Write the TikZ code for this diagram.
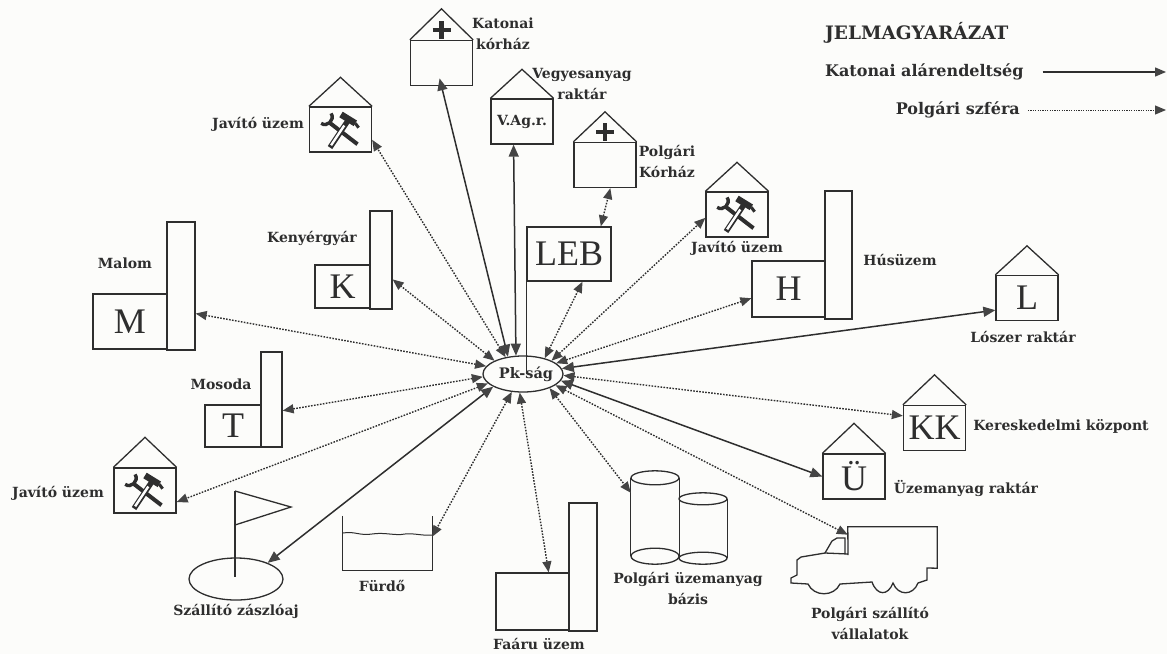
\documentclass[tikz,border=0pt]{standalone}
\usepackage{fontspec}
\setmainfont{DejaVu Serif}
\newfontfamily\bigfont{Liberation Serif}
\usetikzlibrary{arrows.meta,calc,shapes.geometric}
\definecolor{paper}{HTML}{FCFCFA}
\definecolor{ink}{HTML}{2E2E2E}
\definecolor{tipgray}{HTML}{444444}
\tikzset{
	shape line/.style={draw=ink,line width=1.3pt},
	house node/.style={rectangle,shape line,inner sep=0pt,minimum width=62pt,minimum height=45pt,font=\bigfont\fontsize{36}{36}\selectfont,text=ink},
	wing node/.style={rectangle,shape line,inner sep=0pt,font=\bigfont\fontsize{36}{36}\selectfont,text=ink},
	label node/.style={inner sep=0pt,align=center,text=ink,font=\fontsize{14}{21}\selectfont\bfseries},
	legend node/.style={inner sep=0pt,text=ink,font=\fontsize{16}{18}\selectfont\bfseries},
	hidden node/.style={rectangle,inner sep=0pt},
	mil/.style={draw=ink,line width=1.5pt,{Triangle[length=12pt,width=10pt,color=tipgray]}-{Triangle[length=12pt,width=10pt,color=tipgray]}},
	civ/.style={draw=ink,line width=1.4pt,dash pattern=on 1.6pt off 1.4pt,{Triangle[length=11pt,width=9pt,color=tipgray]}-{Triangle[length=11pt,width=9pt,color=tipgray]}},
	cross/.pic={
		\draw[ink,line width=4.5pt] (0,-9) -- (0,9);
		\draw[ink,line width=4.5pt] (-9,0) -- (9,0);
	},
	tools/.pic={
		\draw[ink,line width=4pt] (-11,-8) -- (15,12);
		\draw[ink,line width=3.4pt] (-18,-7) .. controls (-13,-3) and (-5,-10) .. (-9,-16);
		\draw[ink,line width=5.4pt] (-10,15) -- (6,-9);
		\draw[white,line width=2.4pt] (-9,13) -- (3,-5);
		\draw[ink,line width=6.5pt] (0,-15) -- (13,-7);
		\draw[ink,line width=3pt] (13,-7) -- (16,-3);
	},
}
\newcommand{\roof}[2]{\draw[shape line] (#1.north west) -- ($(#1.north)+(0,-#2)$) -- (#1.north east);}
\begin{document}
\begin{tikzpicture}[x=1pt,y=-1pt]
	\fill[paper] (0,0) rectangle (1167,654);
	\useasboundingbox (0,0) rectangle (1167,654);
	
	\node[ellipse,shape line,inner sep=0pt,minimum width=80pt,minimum height=36pt] (pk) at (523,374) {};
	\node[label node,font=\fontsize{14.5}{16}\selectfont\bfseries] (pklabel) at (526,374) {Pk-ság};
	
	\node[house node] (katkor) at (441.5,63) {};
	\node[house node] (vagr) at (522,121.5) {\fontsize{14}{14}\selectfont\rmfamily\bfseries V.Ag.r.};
	\node[house node] (polkor) at (605,165) {};
	\node[house node] (javfel) at (340.5,129.5) {};
	\node[house node] (javjobb) at (737,214.5) {};
	\node[house node] (javle) at (145,490.5) {};
	\node[house node] (loszer) at (1027,298) {L};
	\node[house node] (kozp) at (934.5,428) {KK};
	\node[house node] (uzem) at (854,476.5) {Ü};
	
	\foreach \h/\t in {katkor/31,vagr/29,polkor/30,javfel/29,javjobb/29,javle/30,loszer/29,kozp/30,uzem/30} {
		\roof{\h}{\t}
	}
	\pic at (441.5,30) {cross};
	\pic at (605,132) {cross};
	\pic[scale=1.1] at (341,131) {tools};
	\pic[scale=1.1] at (737,215) {tools};
	\pic[scale=1.1] at (145,492) {tools};
	
	\node[wing node,minimum width=74pt,minimum height=55pt] (malom) at (130,321.5) {M};
	\node[wing node,minimum width=28pt,minimum height=128pt] (malomt) at (181,286) {};
	\node[wing node,minimum width=55pt,minimum height=43pt] (keny) at (342.5,286.5) {K};
	\node[wing node,minimum width=22pt,minimum height=98pt] (kenyt) at (381,260) {};
	\node[wing node,minimum width=56pt,minimum height=42pt] (mos) at (233,426) {T};
	\node[wing node,minimum width=21pt,minimum height=95pt] (most) at (271.5,399.5) {};
	\node[wing node,minimum width=84pt,minimum height=54pt] (leb) at (569,254) {LEB};
	\node[wing node,minimum width=73pt,minimum height=56pt] (hus) at (788.5,289) {H};
	\node[wing node,minimum width=27pt,minimum height=128pt] (hust) at (838.5,255) {};
	\node[wing node,minimum width=73pt,minimum height=57pt] (faaru) at (532.5,601.5) {};
	\node[wing node,minimum width=28pt,minimum height=128pt] (faarut) at (583,567) {};
	
	\node[ellipse,shape line,inner sep=0pt,minimum width=94pt,minimum height=42pt] (zaszlo) at (236,579) {};
	\coordinate (poletop) at (235,491);
	\coordinate (polefoot) at (235,577);
	\coordinate (flagtip) at (291,507);
	\coordinate (flagfoot) at (235,525);
	\draw[shape line] (poletop) -- (polefoot);
	\draw[shape line] (poletop) -- (flagtip) -- (flagfoot);
	
	\node[hidden node,minimum width=89pt,minimum height=54pt] (furdo) at (387.5,543) {};
	\draw[shape line] (furdo.north west) -- (furdo.south west) -- (furdo.south east) -- (furdo.north east);
	\draw[shape line,line width=1pt] (343,533) .. controls (355,531) and (360,536) .. (372,534) .. controls (385,532) and (395,536) .. (405,534) .. controls (415,533) and (422,536) .. (432,535);
	
	\node[hidden node,minimum width=48pt,minimum height=78pt] (cyla) at (655,517) {};
	\node[hidden node,minimum width=48pt,minimum height=59pt] (cylb) at (703,528.5) {};
	\draw[shape line] (cyla.north west) -- (cyla.south west) (cyla.north east) -- (cyla.south east);
	\draw[shape line] (cylb.north east) -- (cylb.south east);
	\draw[shape line] (cyla.north) ellipse [x radius=24,y radius=7];
	\draw[shape line] (cyla.south) ellipse [x radius=24,y radius=8];
	\draw[shape line] (cylb.north) ellipse [x radius=24,y radius=6];
	\draw[shape line] (cylb.south) ellipse [x radius=24,y radius=6];
	
	\node[hidden node,minimum width=89pt,minimum height=41pt] (truck) at (892.5,547.5) {};
	\draw[shape line] (848,555) -- (truck.north west) -- (truck.north east) -- (truck.south east) -- (927,568) -- (927,580) -- (918,583)
		.. controls (913,596) and (898,596) .. (893,583) .. controls (888,596) and (877,596) .. (872,582) -- (840,584)
		.. controls (834,597) and (814,597) .. (808,584) -- (791,583) -- (791,578) -- (797,575) -- (797,560) -- (801,557) -- (825,553) -- (848,554);
	\draw[shape line] (825,553) -- (832,541) -- (837,538) -- (845,538) -- (845,554);
	
	\node[label node] (lkatkor) at (503,34) {Katonai\\kórház};
	\node[label node] (lvagr) at (582,84) {Vegyesanyag\\raktár};
	\node[label node] (lpolkor) at (667,161) {Polgári\\Kórház};
	\node[label node] (ljavfel) at (258,124) {Javító üzem};
	\node[label node] (ljavjobb) at (737,248) {Javító üzem};
	\node[label node] (ljavle) at (58,493) {Javító üzem};
	\node[label node] (lmalom) at (125,263) {Malom};
	\node[label node] (lkeny) at (312,238) {Kenyérgyár};
	\node[label node] (lmos) at (221,384) {Mosoda};
	\node[label node] (lhus) at (900,260) {Húsüzem};
	\node[label node] (lloszer) at (1023,337) {Lószer raktár};
	\node[label node] (lkozp) at (1061,426) {Kereskedelmi központ};
	\node[label node] (luzem) at (966,488) {Üzemanyag raktár};
	\node[label node] (ltruck) at (870,623) {Polgári szállító\\vállalatok};
	\node[label node] (lcyl) at (688,588) {Polgári üzemanyag\\bázis};
	\node[label node] (lfaaru) at (539,644) {Faáru üzem};
	\node[label node] (lfurdo) at (382,586) {Fürdő};
	\node[label node] (lzaszlo) at (236,611) {Szállító zászlóaj};
	
	\draw[mil,shorten >=-8pt] (pk.131) -- (katkor.south);
	\foreach \a/\b in {pk.111/vagr.-110,pk.-10/uzem.west,pk.8/loszer.201,pk.203/zaszlo.27} {
		\draw[mil] (\a) -- (\b);
	}
	\draw[ink,line width=1.3pt] (leb.south west) -- (leb.south west |- pk.center);
	\foreach \a/\b in {pk.136/javfel.-18,pk.155/kenyt.-59,pk.168/malomt.-62,pk.184/most.-45,pk.195/javle.-20,pk.-122/furdo.8,pk.-100/faaru.61,pk.-28/cyla.135,pk.-19/truck.164,pk.-2/kozp.159,pk.18/hus.194,pk.25/javjobb.186,pk.36/leb.-64,leb.41/polkor.-77} {
		\draw[civ] (\a) -- (\b);
	}
	
	\node[legend node,anchor=west,font=\fontsize{18.5}{20}\selectfont\bfseries] (legtitle) at (825,33) {JELMAGYARÁZAT};
	\node[legend node,anchor=west] (legmil) at (825,72) {Katonai alárendeltség};
	\node[legend node,anchor=east] (legciv) at (1020,110) {Polgári szféra};
	\coordinate (milend) at (1166,72);
	\coordinate (civend) at (1166,110);
	\draw[draw=ink,line width=1.3pt,-{Triangle[length=11pt,width=9pt,color=tipgray]}] ($(legmil.east)+(19,0)$) -- (milend);
	\draw[draw=ink,line width=1pt,dash pattern=on 1.2pt off 1.2pt,-{Triangle[length=11pt,width=9pt,color=tipgray]}] ($(legciv.east)+(8,0)$) -- (civend);
	
\end{tikzpicture}
\end{document}
